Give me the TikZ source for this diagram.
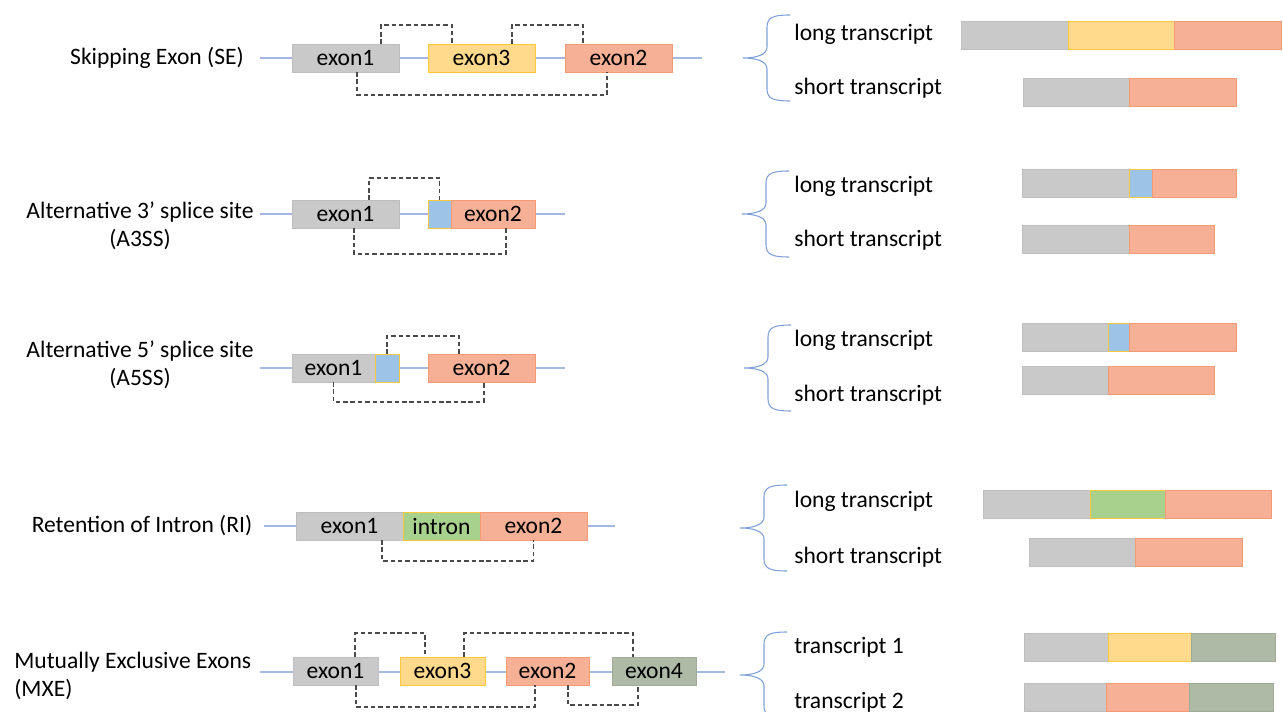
\documentclass[tikz,border=0pt]{standalone}
\usepackage{fontspec}
\setmainfont{Carlito}
\usepackage{tikz}
\usetikzlibrary{positioning,calc}
\definecolor{strandblue}{HTML}{A3B9E2}
\definecolor{braceblue}{HTML}{7E9FD8}
\definecolor{dashgray}{HTML}{4A4A4A}
\definecolor{exgrayfill}{HTML}{C9C9C9}
\definecolor{exgraydraw}{HTML}{BEBEBE}
\definecolor{exyellowfill}{HTML}{FFD98C}
\definecolor{exyellowdraw}{HTML}{FFC83D}
\definecolor{exorangefill}{HTML}{F5B096}
\definecolor{exorangedraw}{HTML}{F29B74}
\definecolor{exbluefill}{HTML}{9DC3E6}
\definecolor{exgreenfill}{HTML}{A9D18E}
\definecolor{exsagefill}{HTML}{AEBAA6}
\definecolor{exsagedraw}{HTML}{9FAA98}

\begin{document}
\begin{tikzpicture}[
    x=0.02cm, y=-0.02cm,
    box/.style={rectangle, minimum height=0.56cm, inner sep=0pt, outer sep=0pt, line width=0.5pt, font=\fontsize{13.4}{16}\selectfont},
    bar/.style={rectangle, minimum height=0.56cm, inner sep=0pt, outer sep=0pt, line width=0.5pt},
    exgray/.style={fill=exgrayfill, draw=exgraydraw},
    exyellow/.style={fill=exyellowfill, draw=exyellowdraw},
    exorange/.style={fill=exorangefill, draw=exorangedraw},
    exblue/.style={fill=exbluefill, draw=exyellowdraw},
    exgreen/.style={fill=exgreenfill, draw=exyellowdraw},
    exsage/.style={fill=exsagefill, draw=exsagedraw},
    rowname/.style={inner sep=0pt, font=\fontsize{13.4}{16}\selectfont},
    txname/.style={inner sep=0pt, anchor=west, font=\fontsize{13.4}{16}\selectfont},
    strand/.style={draw=strandblue, line width=0.6pt},
    junction/.style={draw=dashgray, line width=0.7pt, dash pattern=on 2.6pt off 1.6pt},
    splitbrace/.pic={
        \draw[braceblue, line width=0.6pt] (47,-43) .. controls (31,-43) and (24,-41) .. (24,-31)
            -- (24,-11) .. controls (24,-3) and (13,0) .. (0,0)
            .. controls (13,0) and (24,3) .. (24,11)
            -- (24,31) .. controls (24,41) and (31,43) .. (47,43);
    }
]
    \useasboundingbox (0,0) rectangle (1283,712);

    % Skipping exon
    \coordinate (seA) at (260,58);
    \coordinate (seB) at (702,58);
    \draw[strand] (seA) -- (seB);
    \node[rowname] (seName) at (157,58) {Skipping Exon (SE)};
    \node[box, exgray, minimum width=2.14cm] (se1) at (345.5,58) {exon1};
    \node[box, exyellow, minimum width=2.14cm] (se3) at (481.5,58) {exon3};
    \node[box, exorange, minimum width=2.14cm] (se2) at (618.5,58) {exon2};
    \draw[junction] ($(se1.north)+(35.5,0)$) -- ++(0,-19) -| ($(se3.north)+(-29.5,0)$);
    \draw[junction] ($(se3.north)+(30.5,0)$) -- ++(0,-19) -| ($(se2.north)+(-35.5,0)$);
    \draw[junction] ($(se1.south)+(11.5,0)$) -- ++(0,23) -| ($(se2.south)+(-11.5,0)$);

    \pic (seBrace) at (743,58) {splitbrace};
    \node[txname] (seLong) at (794,34) {long transcript};
    \node[txname] (seShort) at (794,88) {short transcript};
    \node[bar, exgray, anchor=west, minimum width=2.14cm] (seL1) at (961,35) {};
    \node[bar, exyellow, minimum width=2.12cm, right=0pt of seL1] (seL2) {};
    \node[bar, exorange, minimum width=2.14cm, right=0pt of seL2] (seL3) {};
    \node[bar, exgray, anchor=west, minimum width=2.12cm] (seS1) at (1023,92) {};
    \node[bar, exorange, minimum width=2.14cm, right=0pt of seS1] (seS2) {};

    % Alternative 3' splice site
    \coordinate (a3A) at (260,214);
    \coordinate (a3B) at (565,214);
    \draw[strand] (a3A) -- (a3B);
    \node[rowname, align=center] (a3Name) at (140,226) {Alternative 3’ splice site\\(A3SS)};
    \node[box, exgray, minimum width=2.14cm] (a31) at (345.5,214) {exon1};
    \node[box, exblue, anchor=west, minimum width=0.46cm] (a3x) at (428,214) {};
    \node[box, exorange, minimum width=1.68cm, right=0pt of a3x] (a32) {exon2};
    \draw[junction] ($(a31.north)+(23.5,0)$) -- ++(0,-22) -| (a3x.north);
    \draw[junction] ($(a31.south)+(8.5,0)$) -- ++(0,26) -| ($(a32.south)+(13,0)$);

    \pic (a3Brace) at (742,214) {splitbrace};
    \node[txname] (a3Long) at (794,186) {long transcript};
    \node[txname] (a3Short) at (794,240) {short transcript};
    \node[bar, exgray, anchor=west, minimum width=2.14cm] (a3L1) at (1022,183) {};
    \node[bar, exblue, minimum width=0.46cm, right=0pt of a3L1] (a3L2) {};
    \node[bar, exorange, minimum width=1.68cm, right=0pt of a3L2] (a3L3) {};
    \node[bar, exgray, anchor=west, minimum width=2.14cm] (a3S1) at (1022,239) {};
    \node[bar, exorange, minimum width=1.70cm, right=0pt of a3S1] (a3S2) {};

    % Alternative 5' splice site
    \coordinate (a5A) at (260,368);
    \coordinate (a5B) at (565,368);
    \draw[strand] (a5A) -- (a5B);
    \node[rowname, align=center] (a5Name) at (140,365) {Alternative 5’ splice site\\(A5SS)};
    \node[box, exgray, anchor=west, minimum width=1.66cm] (a51) at (292,368) {exon1};
    \node[box, exblue, minimum width=0.48cm, right=0pt of a51] (a5x) {};
    \node[box, exorange, minimum width=2.14cm] (a52) at (481.5,368) {exon2};
    \draw[junction] (a5x.north) -- ++(0,-18) -| ($(a52.north)+(-22.5,0)$);
    \draw[junction] (a51.south) -- ++(0,20) -| ($(a52.south)+(2.5,0)$);

    \pic (a5Brace) at (744,368) {splitbrace};
    \node[txname] (a5Long) at (794,340) {long transcript};
    \node[txname] (a5Short) at (794,395) {short transcript};
    \node[bar, exgray, anchor=west, minimum width=1.72cm] (a5L1) at (1022,337.5) {};
    \node[bar, exblue, minimum width=0.42cm, right=0pt of a5L1] (a5L2) {};
    \node[bar, exorange, minimum width=2.14cm, right=0pt of a5L2] (a5L3) {};
    \node[bar, exgray, anchor=west, minimum width=1.72cm] (a5S1) at (1022,380.5) {};
    \node[bar, exorange, minimum width=2.12cm, right=0pt of a5S1] (a5S2) {};

    % Retention of intron
    \coordinate (riA) at (264,526);
    \coordinate (riB) at (615,526);
    \draw[strand] (riA) -- (riB);
    \node[rowname] (riName) at (142,526) {Retention of Intron (RI)};
    \node[box, exgray, anchor=west, minimum width=2.14cm] (ri1) at (296,526) {exon1};
    \node[box, exgreen, minimum width=1.54cm, right=0pt of ri1] (rix) {intron};
    \node[box, exorange, minimum width=2.14cm, right=0pt of rix] (ri2) {exon2};
    \draw[junction] ($(ri1.south)+(32.5,0)$) -- ++(0,21) -| (ri2.south);

    \pic (riBrace) at (740,528) {splitbrace};
    \node[txname] (riLong) at (794,501) {long transcript};
    \node[txname] (riShort) at (794,557) {short transcript};
    \node[bar, exgray, anchor=west, minimum width=2.14cm] (riL1) at (983,504) {};
    \node[bar, exgreen, minimum width=1.50cm, right=0pt of riL1] (riL2) {};
    \node[bar, exorange, minimum width=2.12cm, right=0pt of riL2] (riL3) {};
    \node[bar, exgray, anchor=west, minimum width=2.12cm] (riS1) at (1029,552) {};
    \node[bar, exorange, minimum width=2.14cm, right=0pt of riS1] (riS2) {};

    % Mutually exclusive exons
    \coordinate (mxA) at (260,672);
    \coordinate (mxB) at (725,672);
    \draw[strand] (mxA) -- (mxB);
    \node[rowname, align=left, anchor=west] (mxName) at (14,676) {Mutually Exclusive Exons\\(MXE)};
    \node[box, exgray, minimum width=1.70cm] (mx1) at (335.5,671) {exon1};
    \node[box, exyellow, minimum width=1.70cm] (mx3) at (442.5,671) {exon3};
    \node[box, exorange, minimum width=1.66cm] (mx2) at (547.5,671) {exon2};
    \node[box, exsage, minimum width=1.68cm] (mx4) at (654,671) {exon4};
    \draw[junction] ($(mx1.north)+(19.5,0)$) -- ++(0,-24) -| ($(mx3.north)+(-17.5,0)$);
    \draw[junction] ($(mx3.north)+(21.5,0)$) -- ++(0,-24) -| ($(mx4.north)+(-21,0)$);
    \draw[junction] ($(mx1.south)+(20.5,0)$) -- ++(0,22) -| ($(mx2.south)+(-12.5,0)$);
    \draw[junction] ($(mx2.south)+(20.5,0)$) -- ++(0,20) -| ($(mx4.south)+(-16,0)$);

    \pic (mxBrace) at (740,675) {splitbrace};
    \node[txname] (mxOne) at (794,647) {transcript 1};
    \node[txname] (mxTwo) at (794,702) {transcript 2};
    \node[bar, exgray, anchor=west, minimum width=1.68cm] (mxT1) at (1024,647) {};
    \node[bar, exyellow, minimum width=1.66cm, right=0pt of mxT1] (mxT2) {};
    \node[bar, exsage, minimum width=1.68cm, right=0pt of mxT2] (mxT3) {};
    \node[bar, exgray, anchor=west, minimum width=1.64cm] (mxU1) at (1024,697) {};
    \node[bar, exorange, minimum width=1.66cm, right=0pt of mxU1] (mxU2) {};
    \node[bar, exsage, minimum width=1.68cm, right=0pt of mxU2] (mxU3) {};
\end{tikzpicture}
\end{document}
